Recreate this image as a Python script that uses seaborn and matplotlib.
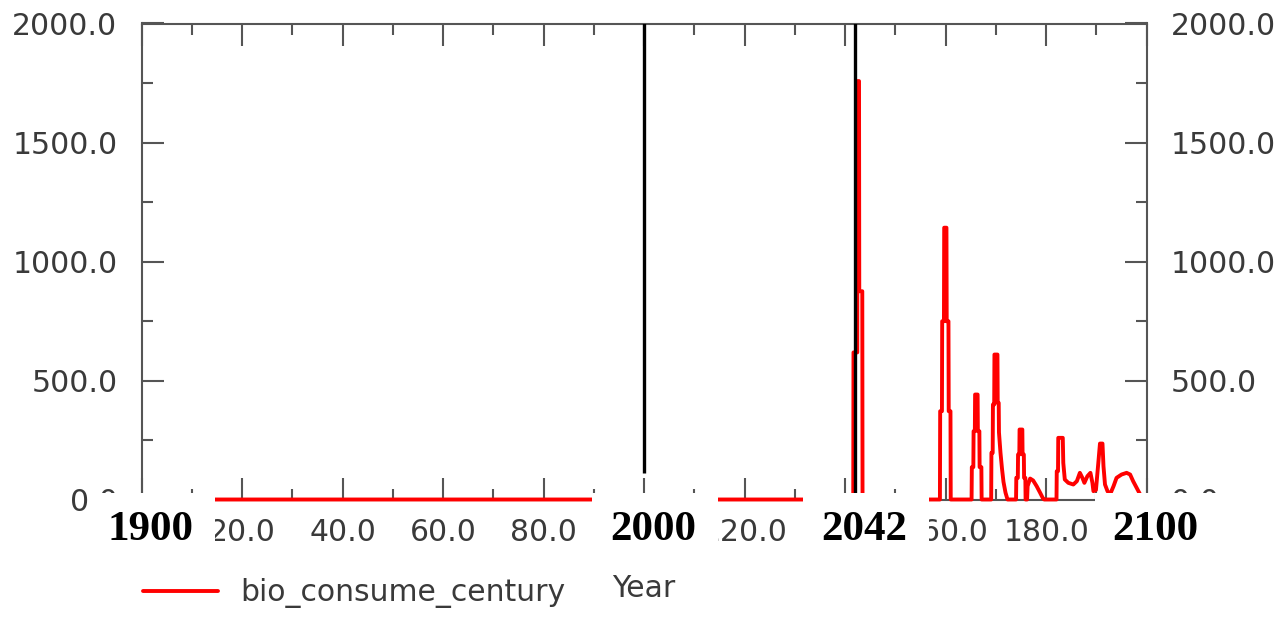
import matplotlib
matplotlib.use("Agg")
import matplotlib.pyplot as plt
import numpy as np
import pandas as pd
import seaborn as sns
from matplotlib.ticker import MultipleLocator, FormatStrFormatter
from matplotlib.patches import Rectangle
from matplotlib.transforms import blended_transform_factory

# Simulation time (years since 1900) and biomass consumption per century
sim_time = [
    0.0,
    141.6, 141.65, 142.4, 142.45, 142.75, 142.8, 143.4, 143.45,
    158.85, 158.9, 159.25, 159.3, 159.65, 159.7, 160.15, 160.2, 160.55, 160.6, 160.95, 161.0,
    165.15, 165.2, 165.5, 165.55, 165.8, 165.85, 166.35, 166.4, 166.7, 166.75, 167.1, 167.15,
    169.05, 169.1, 169.35, 169.4, 169.65, 169.7, 170.3, 170.35, 170.55, 170.6, 170.9, 171.2,
    171.5, 171.9, 172.3,
    174.0, 174.05, 174.35, 174.4, 174.65, 174.7, 175.25, 175.3, 175.55, 175.6, 175.85, 175.9,
    176.2, 176.3, 176.8, 177.4, 178.1, 178.8, 179.4, 179.6,
    182.05, 182.1, 182.35, 182.4, 183.3, 183.4, 183.7, 184.4, 185.4, 186.1, 186.7, 187.2,
    187.6, 188.2, 188.8, 189.2, 189.4, 189.9, 190.4, 190.7, 191.2, 191.4, 191.7, 192.2,
    192.7, 193.4, 194.0, 195.0, 196.0, 196.7, 197.3, 198.0, 198.7, 199.3, 200.0,
]
bio_consume_century = [
    0,
    0, 618, 618, 1758, 1758, 875, 875, 0,
    0, 371, 371, 749, 749, 1142, 1142, 749, 749, 371, 371, 0,
    0, 136, 136, 287, 287, 441, 441, 287, 287, 136, 136, 0,
    0, 196, 196, 399, 399, 609, 609, 406, 406, 282, 197, 130,
    74, 29, 0,
    0, 91, 91, 189, 189, 294, 294, 189, 189, 91, 91, 0,
    0, 56, 88, 80, 56, 28, 3, 0,
    0, 119, 119, 259, 259, 154, 84, 70, 63, 77, 112, 91,
    70, 98, 112, 70, 35, 40, 161, 235, 235, 140, 63, 35,
    21, 56, 91, 105, 112, 105, 77, 49, 21, 0, 0,
]

# Marker years drawn as vertical rules (offset from 1900) and their lower ends
marker_years = [100, 142]
marker_bottoms = [110, 0]

# Calendar labels placed over the time axis
calendar_pos = [0, 100, 142, 200]
calendar_text = ["1900", "2000", "2042", "2100"]

df = pd.DataFrame({"t": sim_time, "v": bio_consume_century})

sns.set_theme(style="white")
plt.rcParams["font.family"] = ["DejaVu Sans"]

W, H = 1287, 620
fig = plt.figure(figsize=(W / 100, H / 100), dpi=100)
fig.patch.set_facecolor("white")
ax = fig.add_axes([141.7 / W, 1 - 499.5 / H, 1005 / W, 476 / H])
ax.set_facecolor("white")

sns.lineplot(data=df, x="t", y="v", sort=False, estimator=None, color="#ff0000",
             linewidth=2.8, ax=ax, label="bio_consume_century", zorder=3)
ax.lines[0].set_clip_on(False)

ax.vlines(marker_years, marker_bottoms, 2000, colors="black", linewidth=2.4, zorder=4)

ax.set_xlim(0, 200)
ax.set_ylim(0, 2000)

axis_grey = "#555555"
text_grey = "#3a3a3a"
for side in ["left", "right", "top", "bottom"]:
    ax.spines[side].set_visible(True)
    ax.spines[side].set_color(axis_grey)
    ax.spines[side].set_linewidth(1.5)

ax.xaxis.set_major_locator(MultipleLocator(20))
ax.xaxis.set_minor_locator(MultipleLocator(10))
ax.yaxis.set_major_locator(MultipleLocator(500))
ax.yaxis.set_minor_locator(MultipleLocator(250))
ax.xaxis.set_major_formatter(FormatStrFormatter("%.1f"))
ax.yaxis.set_major_formatter(FormatStrFormatter("%.1f"))

ax.tick_params(which="both", direction="in", color=axis_grey, width=1.5,
               top=True, right=True, bottom=True, left=True,
               labelright=True, labelleft=True, labelsize=21.5, labelcolor=text_grey)
ax.tick_params(which="major", length=16)
ax.tick_params(which="minor", length=8)
ax.tick_params(axis="y", which="major", pad=17.5)
ax.tick_params(axis="x", which="major", pad=13)

ax.set_xlabel("Year", fontsize=21.5, color=text_grey, labelpad=20)
ax.set_ylabel("")

ax.legend(loc="center left", bbox_to_anchor=(143 / W, 1 - 593 / H),
          bbox_transform=fig.transFigure, frameon=False, fontsize=21.5,
          handlelength=2.5, handletextpad=0.75, borderpad=0, borderaxespad=0,
          labelcolor=text_grey)

# White label plates with calendar years over the time axis
trans = blended_transform_factory(ax.transData, ax.transAxes)
for pos, txt in zip(calendar_pos, calendar_text):
    ax.add_patch(Rectangle((pos - 10.3, -0.137), 24.9, 0.15, transform=trans,
                           facecolor="white", edgecolor="none", clip_on=False, zorder=6))
    ax.text(pos + 1.8, -0.064, txt, transform=trans, ha="center", va="center",
            fontsize=31, fontweight="bold", family="Liberation Serif",
            color="black", zorder=7, clip_on=False)

fig.savefig("out.png", dpi=100, facecolor="white")
